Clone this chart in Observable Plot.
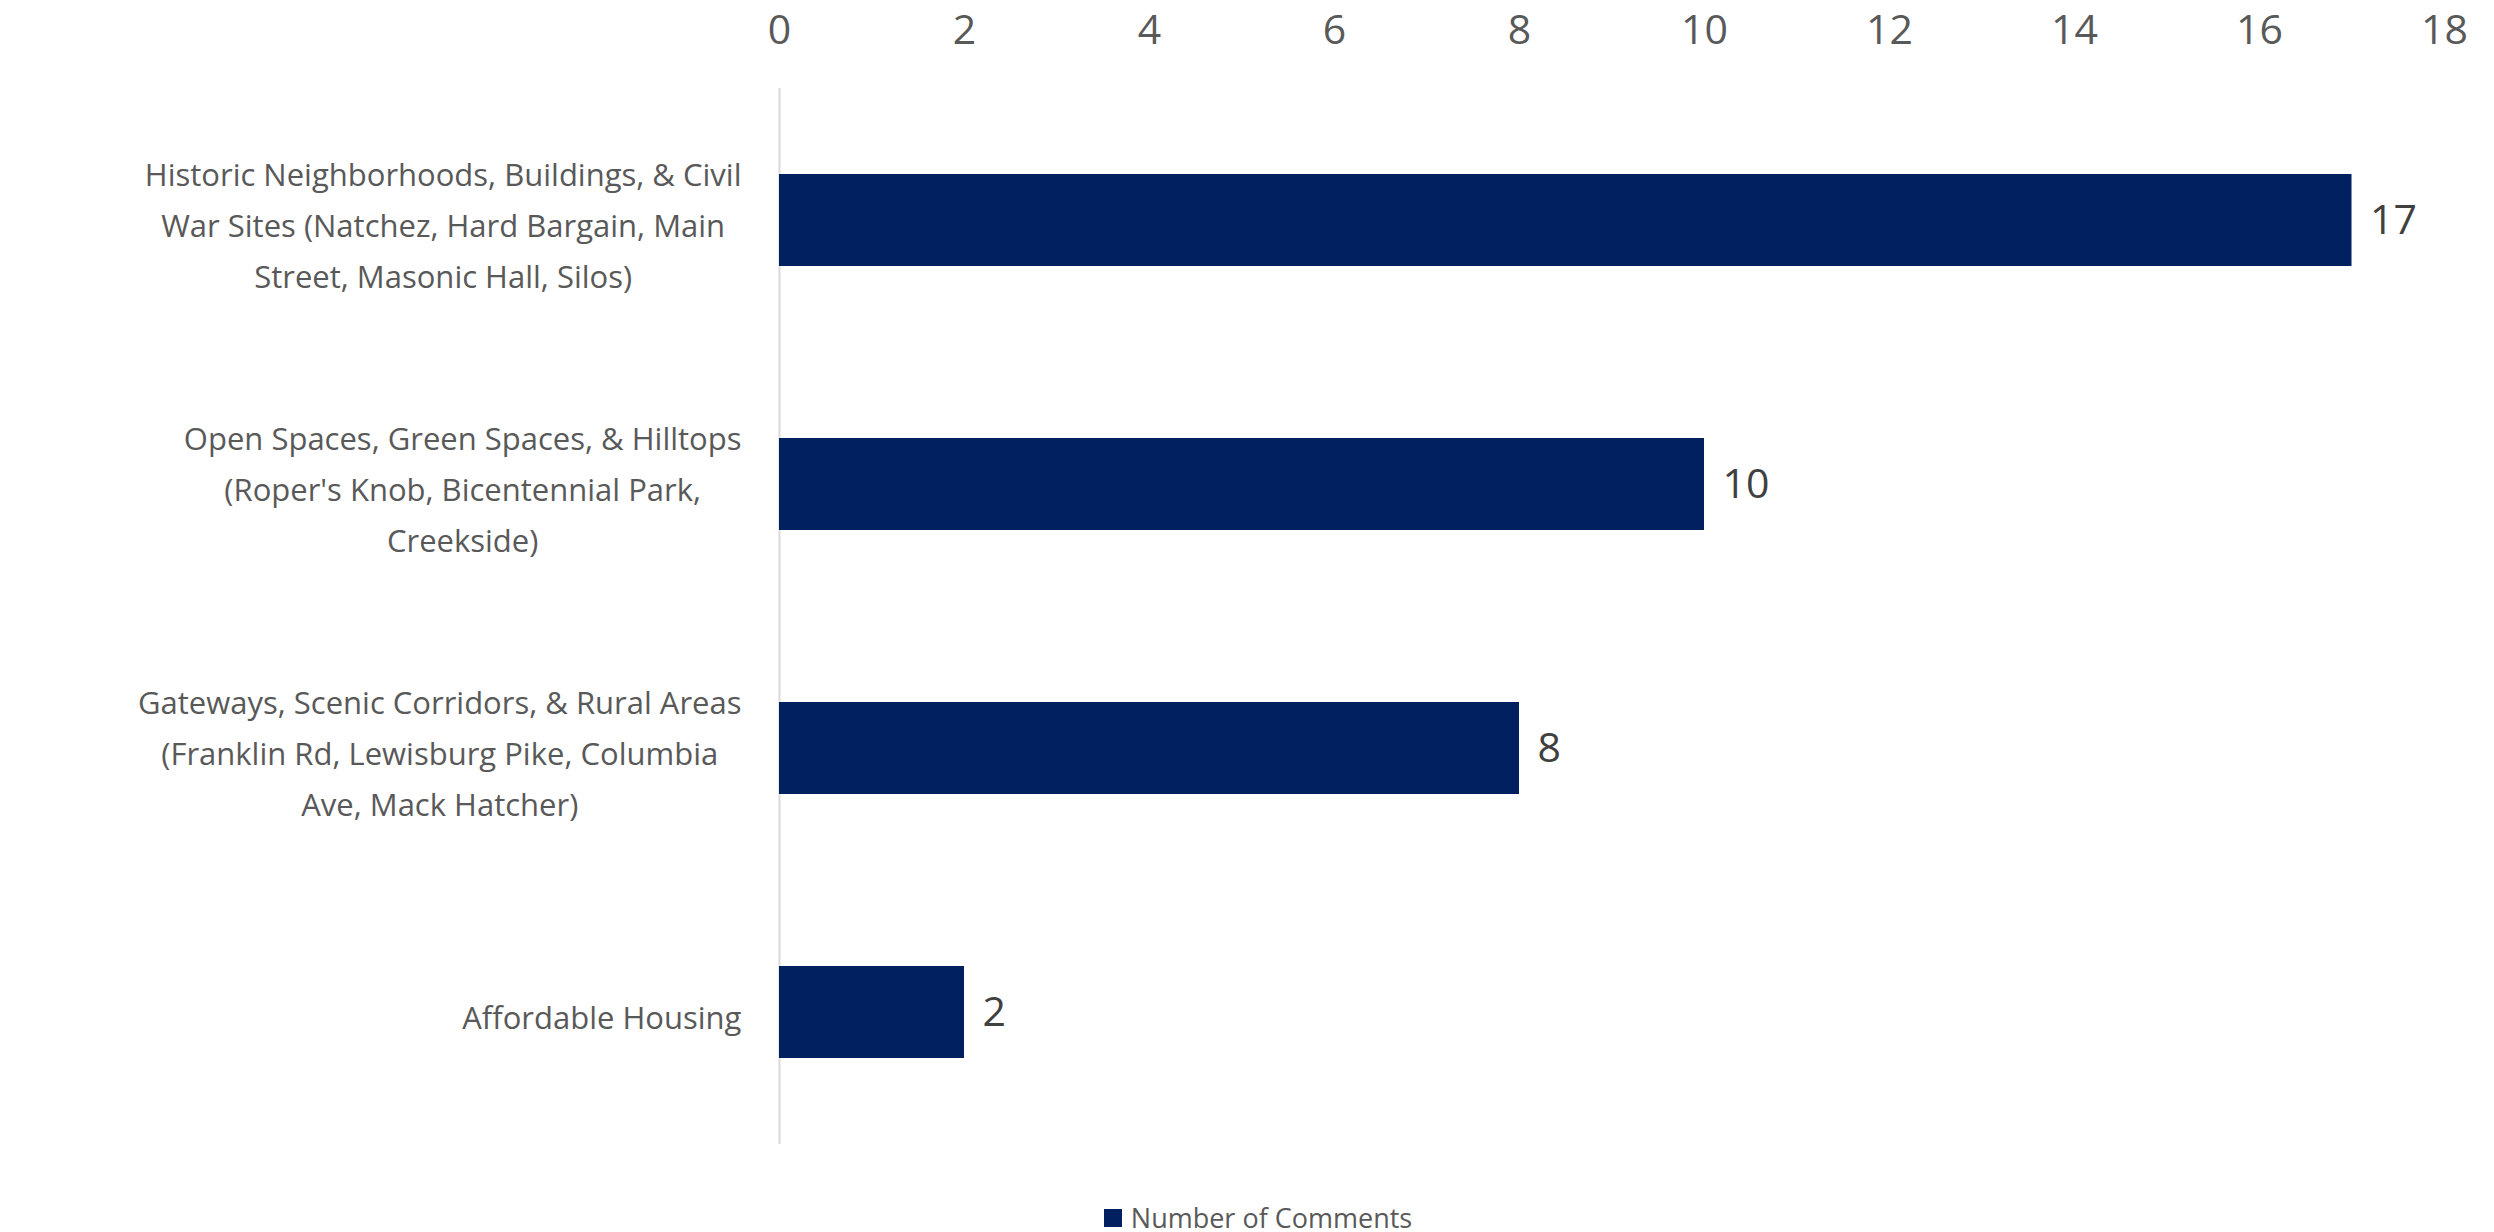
<!DOCTYPE html>
<html>
<head>
<meta charset="utf-8">
<script src="https://cdn.jsdelivr.net/npm/d3@7"></script>
<script src="https://cdn.jsdelivr.net/npm/@observablehq/plot@0.6"></script>
<style>
  html, body { margin: 0; padding: 0; background: #ffffff; }
  body { width: 2494px; height: 1232px; overflow: hidden; font-family: 'Open Sans', sans-serif; }
  #chart svg { display: block; }
  #legend { height: 42px; display: flex; justify-content: center; align-items: center; padding-left: 22px; box-sizing: border-box; padding-top: 14px; }
  #legend .sw { width: 18px; height: 18px; background: #002060; margin-right: 9px; }
  #legend .lb { font-size: 27px; line-height: 28px; color: #595959; }
</style>
</head>
<body>
<div id="chart"></div>
<div id="legend"><div class="sw"></div><div class="lb">Number of Comments</div></div>
<script>
const categories = [
  "Historic Neighborhoods, Buildings, & Civil\nWar Sites (Natchez, Hard Bargain, Main\nStreet, Masonic Hall, Silos)",
  "Open Spaces, Green Spaces, & Hilltops\n(Roper's Knob, Bicentennial Park,\nCreekside)",
  "Gateways, Scenic Corridors, & Rural Areas\n(Franklin Rd, Lewisburg Pike, Columbia\nAve, Mack Hatcher)",
  "Affordable Housing"
];
const values = [17, 10, 8, 2];
const xTicks = [0, 2, 4, 6, 8, 10, 12, 14, 16, 18];
const seriesName = "Number of Comments";

const data = categories.map((c, i) => ({category: c, value: values[i]}));

const chart = Plot.plot({
  width: 2494,
  height: 1190,
  marginTop: 88,
  marginBottom: 46,
  marginLeft: 779,
  marginRight: 50,
  style: {fontFamily: "'Open Sans', sans-serif", background: "#ffffff"},
  x: {domain: [0, 18], label: null},
  y: {domain: categories, paddingInner: 0.65, paddingOuter: 0.325, label: null},
  marks: [
    Plot.axisX({anchor: "top", ticks: xTicks, tickSize: 0, tickPadding: 45, fontSize: 41, fill: "#595959", label: null, tickFormat: d => String(d)}),
    Plot.axisY({anchor: "left", tickSize: 0, tickPadding: 38, fontSize: 31, fill: "#595959", lineHeight: 1.645, textAnchor: "end", label: null}),
    Plot.ruleX([0], {stroke: "#d9d9d9", strokeWidth: 2}),
    Plot.barX(data, {x: "value", y: "category", fill: "#002060"}),
    Plot.text(data, {x: "value", y: "category", text: d => String(d.value), dx: 18, textAnchor: "start", fontSize: 41, fill: "#404040"})
  ]
});
document.getElementById("chart").appendChild(chart);

// Center the lines of each multi-line category label within its right-aligned block
chart.querySelectorAll('g[aria-label="y-axis tick label"] text').forEach(t => {
  const w = t.getBBox().width;
  const tr = t.getAttribute("transform") || "";
  t.setAttribute("text-anchor", "middle");
  t.setAttribute("transform", tr + ` translate(${-w / 2},0)`);
});
</script>
</body>
</html>
